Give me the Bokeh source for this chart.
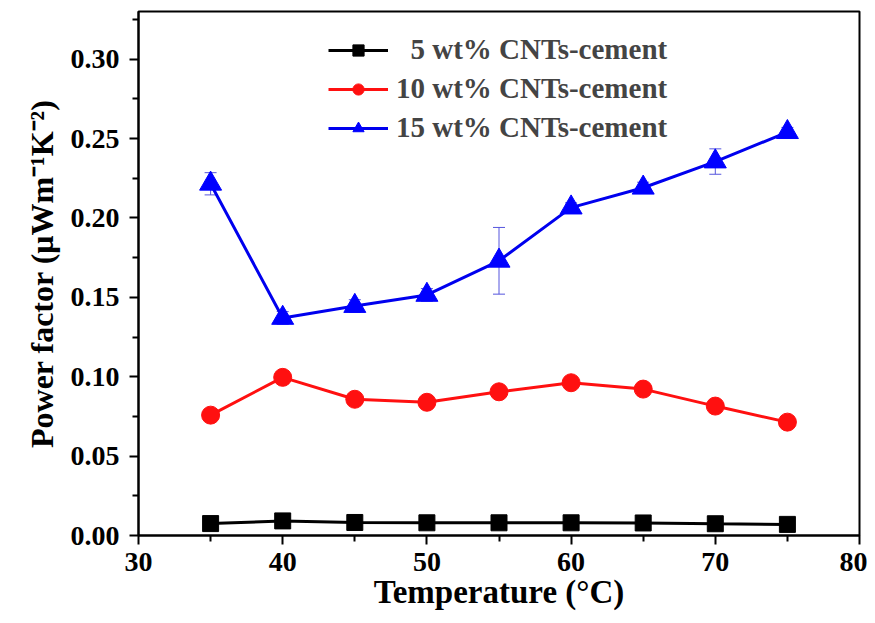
from bokeh.plotting import figure
from bokeh.models import ColumnDataSource, Whisker, Legend, LegendItem, FixedTicker, Range1d, CustomJSTickFormatter
from bokeh.embed import file_html
from bokeh.resources import INLINE

temps = [35, 40, 45, 50, 55, 60, 65, 70, 75]
pf_5 = [0.0075, 0.0092, 0.0082, 0.0080, 0.0080, 0.0080, 0.0079, 0.0074, 0.0070]
pf_10 = [0.0758, 0.0996, 0.0858, 0.0839, 0.0905, 0.0962, 0.0922, 0.0815, 0.0714]
pf_15 = [0.2215, 0.1370, 0.1445, 0.1515, 0.1730, 0.2065, 0.2190, 0.2355, 0.2540]
err_15 = [0.0070, 0.0040, 0.0040, 0.0040, 0.0210, 0.0030, 0.0035, 0.0080, 0.0030]
labels = ["\u20075 wt% CNTs-cement", "10 wt% CNTs-cement", "15 wt% CNTs-cement"]
x_ticks = [30, 40, 50, 60, 70, 80]
x_minor = [35, 45, 55, 65, 75]
y_ticks = [0.0, 0.05, 0.10, 0.15, 0.20, 0.25, 0.30]
y_minor = [0.025, 0.075, 0.125, 0.175, 0.225, 0.275, 0.325]

FONT = "Liberation Serif"

p = figure(width=867, height=615, output_backend="svg", toolbar_location=None,
           x_range=Range1d(30, 80), y_range=Range1d(0, 0.33),
           min_border_left=138, min_border_right=8, min_border_top=11, min_border_bottom=80)
p.grid.visible = False
p.outline_line_color = "black"
p.outline_line_width = 2
p.background_fill_color = "white"
p.border_fill_color = "white"

src15 = ColumnDataSource(dict(x=temps, y=pf_15,
                              lo=[a - b for a, b in zip(pf_15, err_15)],
                              hi=[a + b for a, b in zip(pf_15, err_15)]))

w = Whisker(source=src15, base="x", upper="hi", lower="lo", line_color="#5555dd", line_width=1)
w.upper_head.size = 12
w.lower_head.size = 12
w.upper_head.line_color = "#5555dd"
w.lower_head.line_color = "#5555dd"
p.add_layout(w)

l1 = p.line(temps, pf_5, line_color="black", line_width=3)
m1 = p.scatter(temps, pf_5, marker="square", size=16, fill_color="black", line_color="black")
l2 = p.line(temps, pf_10, line_color="#ff1010", line_width=3)
m2 = p.scatter(temps, pf_10, marker="circle", size=18, fill_color="#ff1010", line_color="#ff1010")
l3 = p.line("x", "y", source=src15, line_color="#0000ee", line_width=3)
m3 = p.scatter("x", "y", source=src15, marker="triangle", size=22, fill_color="#0000ff", line_color="#0000ff")

for ax in (p.xaxis[0], p.yaxis[0]):
    ax.major_label_text_font = FONT
    ax.major_label_text_font_style = "bold"
    ax.major_label_text_font_size = "28px"
    ax.major_label_text_color = "black"
    ax.axis_label_text_font = FONT
    ax.axis_label_text_font_style = "bold"
    ax.axis_label_text_color = "black"
    ax.axis_line_width = 2
    ax.major_tick_line_width = 2
    ax.minor_tick_line_width = 2
    ax.major_tick_out = 9
    ax.major_tick_in = 0
    ax.minor_tick_out = 6
    ax.minor_tick_in = 0

p.xaxis.axis_label_text_font_size = "33px"
p.yaxis.axis_label_text_font_size = "32px"
p.xaxis.ticker = FixedTicker(ticks=x_ticks, minor_ticks=x_minor)
p.yaxis.ticker = FixedTicker(ticks=y_ticks, minor_ticks=y_minor)
p.yaxis.formatter = CustomJSTickFormatter(code="return tick.toFixed(2);")
p.xaxis.axis_label = "Temperature (\u00b0C)"
p.yaxis.axis_label = "Power factor (\u03bcWm\u207b\u00b9K\u207b\u00b2)"
p.xaxis.major_label_standoff = 8
p.xaxis.axis_label_standoff = 0
p.yaxis.major_label_standoff = 10
p.yaxis.axis_label_standoff = 8

legend = Legend(items=[
    LegendItem(label=labels[0], renderers=[l1, m1]),
    LegendItem(label=labels[1], renderers=[l2, m2]),
    LegendItem(label=labels[2], renderers=[l3, m3]),
], location=(190, 391))
legend.label_text_font = FONT
legend.label_text_font_style = "bold"
legend.label_text_font_size = "29px"
legend.glyph_width = 60
legend.glyph_height = 28
legend.label_height = 28
legend.spacing = 6
legend.border_line_color = None
legend.background_fill_alpha = 0
legend.label_standoff = 8
p.add_layout(legend)

open("out.html", "w").write(file_html(p, INLINE))
